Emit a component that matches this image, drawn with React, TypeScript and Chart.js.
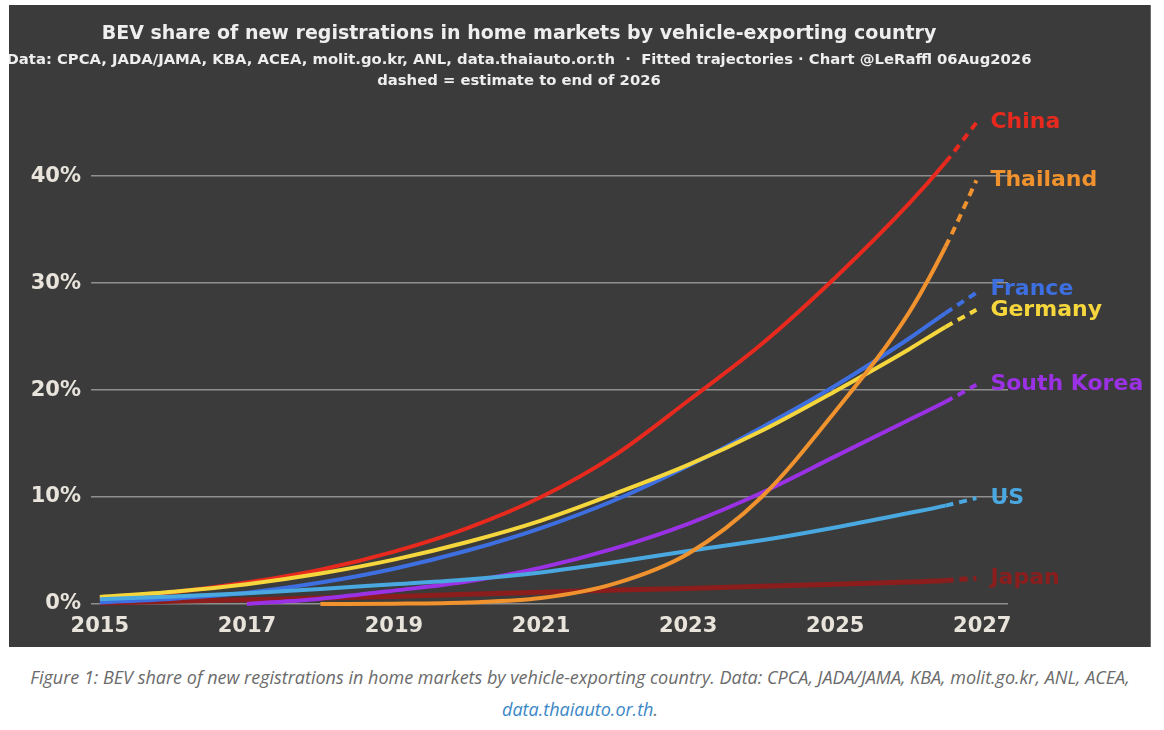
import React, { useEffect, useRef } from "react";
import { Chart, registerables } from "chart.js";

Chart.register(...registerables);

// ---------- data ----------
const FULL_YEARS = [2015, 2016, 2017, 2018, 2019, 2020, 2021, 2022, 2023, 2024, 2025, 2026, 2026.5];
const KOREA_YEARS = [2017, 2018, 2019, 2020, 2021, 2022, 2023, 2024, 2025, 2026, 2026.5];
const THAI_YEARS = [2018, 2019, 2020, 2021, 2022, 2023, 2024, 2025, 2026, 2026.5];
const LAST_ACTUAL_YEAR = 2026.5;
const ESTIMATE_YEAR = 2026.92;

const CHINA = [0.5, 1.1, 2.0, 3.2, 4.9, 7.1, 10.0, 13.9, 19.0, 24.3, 30.5, 37.4, 41.3];
const CHINA_EST = 45.0;
const GERMANY = [0.65, 1.15, 1.85, 2.85, 4.15, 5.8, 7.8, 10.3, 13.0, 16.2, 19.9, 23.8, 25.9];
const GERMANY_EST = 27.5;
const FRANCE = [0.15, 0.5, 1.05, 2.0, 3.3, 5.0, 7.1, 9.7, 12.9, 16.5, 20.4, 24.8, 27.2];
const FRANCE_EST = 29.1;
const US = [0.45, 0.7, 1.0, 1.4, 1.85, 2.3, 2.95, 3.9, 4.95, 5.95, 7.15, 8.5, 9.2];
const US_EST = 9.9;
const JAPAN = [0.1, 0.25, 0.4, 0.55, 0.7, 0.9, 1.1, 1.3, 1.45, 1.65, 1.85, 2.05, 2.2];
const JAPAN_EST = 2.4;
const KOREA = [0, 0.5, 1.25, 2.1, 3.4, 5.2, 7.5, 10.4, 13.8, 17.2, 18.9];
const KOREA_EST = 20.5;
const THAILAND = [0, 0.03, 0.15, 0.55, 1.9, 4.7, 10.0, 18.0, 27.2, 33.4];
const THAILAND_EST = 39.6;

const X_TICKS = [2015, 2017, 2019, 2021, 2023, 2025, 2027];
const Y_TICKS = [0, 10, 20, 30, 40];

const TITLE = "BEV share of new registrations in home markets by vehicle-exporting country";
const SUBTITLE =
  "Data: CPCA, JADA/JAMA, KBA, ACEA, molit.go.kr, ANL, data.thaiauto.or.th  \u00b7  Fitted trajectories \u00b7 Chart @LeRaffl 06Aug2026";
const NOTE = "dashed = estimate to end of 2026";

// ---------- styles ----------
const SERIES = [
  { name: "Thailand", years: THAI_YEARS, values: THAILAND, est: THAILAND_EST, color: "#f0922e", width: 4 },
  { name: "US", years: FULL_YEARS, values: US, est: US_EST, color: "#4aa8e0", width: 4 },
  { name: "South Korea", years: KOREA_YEARS, values: KOREA, est: KOREA_EST, color: "#9b31e4", width: 4 },
  { name: "Germany", years: FULL_YEARS, values: GERMANY, est: GERMANY_EST, color: "#f5d63c", width: 4 },
  { name: "France", years: FULL_YEARS, values: FRANCE, est: FRANCE_EST, color: "#3d6fe0", width: 4 },
  { name: "China", years: FULL_YEARS, values: CHINA, est: CHINA_EST, color: "#e8291e", width: 4 },
  { name: "Japan", years: FULL_YEARS, values: JAPAN, est: JAPAN_EST, color: "#8c1d1d", width: 5 },
];

const BG = "#3b3b3b";
const TEXT = "#eeeeee";
const TICK = "#e8e4dc";
const FONT = '"DejaVu Sans"';

const headerPlugin = {
  id: "header",
  afterDraw(chart: any) {
    const ctx = chart.ctx;
    ctx.save();
    ctx.fillStyle = TEXT;
    ctx.textAlign = "center";
    ctx.textBaseline = "alphabetic";
    ctx.font = `bold 19px ${FONT}`;
    ctx.fillText(TITLE, 510, 34);
    ctx.font = `bold 14.8px ${FONT}`;
    ctx.fillText(SUBTITLE, 510, 59);
    ctx.fillText(NOTE, 510, 79.5);
    ctx.restore();
  },
};

const endLabelPlugin = {
  id: "endLabels",
  afterDatasetsDraw(chart: any) {
    const xs = chart.scales.x;
    const ys = chart.scales.y;
    const items = SERIES.map((s) => ({ text: s.name, color: s.color, y: ys.getPixelForValue(s.est) }));
    items.sort((a, b) => a.y - b.y);
    for (let i = items.length - 2; i >= 0; i--) {
      if (items[i + 1].y - items[i].y < 21) items[i].y = items[i + 1].y - 21;
    }
    const x = xs.getPixelForValue(ESTIMATE_YEAR) + 14;
    const ctx = chart.ctx;
    ctx.save();
    ctx.font = `bold 22px ${FONT}`;
    ctx.textAlign = "left";
    ctx.textBaseline = "middle";
    for (const it of items) {
      ctx.fillStyle = it.color;
      ctx.fillText(it.text, x, it.y);
    }
    ctx.restore();
  },
};

export default function App() {
  const ref = useRef<HTMLCanvasElement | null>(null);

  useEffect(() => {
    if (!ref.current) return;
    const datasets = SERIES.map((s) => ({
      label: s.name,
      data: [...s.years.map((yr, i) => ({ x: yr, y: s.values[i] })), { x: ESTIMATE_YEAR, y: s.est }],
      borderColor: s.color,
      backgroundColor: s.color,
      borderWidth: s.width,
      pointRadius: 0,
      pointHoverRadius: 0,
      fill: false,
      cubicInterpolationMode: "monotone" as const,
      borderCapStyle: "butt" as const,
      segment: {
        borderDash: (ctx: any) => (ctx.p0.parsed.x >= LAST_ACTUAL_YEAR ? [8, 6] : undefined),
      },
    }));

    const tickFont = { family: FONT, weight: "bold" as const, size: 21 };

    const chart = new Chart(ref.current, {
      type: "line",
      data: { datasets },
      plugins: [headerPlugin, endLabelPlugin],
      options: {
        animation: false,
        responsive: false,
        events: [],
        layout: { padding: { left: 0, right: 142, top: 107, bottom: 6.6 } },
        plugins: { legend: { display: false }, tooltip: { enabled: false }, title: { display: false } },
        scales: {
          x: {
            type: "linear",
            min: 2014.88,
            max: 2027.35,
            afterBuildTicks: (axis: any) => {
              axis.ticks = X_TICKS.map((v) => ({ value: v }));
            },
            afterFit: (axis: any) => {
              axis.height = 30;
            },
            grid: { display: false, drawTicks: false },
            border: { display: false },
            ticks: {
              color: TICK,
              font: tickFont,
              padding: 4,
              maxRotation: 0,
              autoSkip: false,
              callback: (v: any) => String(v),
            },
          },
          y: {
            type: "linear",
            min: -0.6,
            max: 46,
            afterBuildTicks: (axis: any) => {
              axis.ticks = Y_TICKS.map((v) => ({ value: v }));
            },
            afterFit: (axis: any) => {
              axis.width = 82;
            },
            grid: { color: "#8f8f8f", lineWidth: 1.5, drawTicks: false },
            border: { display: false },
            ticks: {
              color: TICK,
              font: tickFont,
              padding: 10,
              callback: (v: any) => `${v}%`,
            },
          },
        },
      },
    });
    return () => chart.destroy();
  }, []);

  return (
    <div style={{ position: "absolute", left: 0, top: 0, width: 1164, height: 730, background: "#ffffff" }}>
      <canvas
        ref={ref}
        width={1141}
        height={642}
        style={{
          position: "absolute",
          left: 9,
          top: 5,
          width: 1141,
          height: 642,
          background: BG,
          boxShadow: "1px 0 0 #6e6e6e",
        }}
      />
      <div
        style={{
          position: "absolute",
          left: 0,
          top: 661,
          width: 1160,
          textAlign: "center",
          fontFamily: '"Open Sans", sans-serif',
          fontStyle: "italic",
          fontSize: 18,
          lineHeight: "32px",
          color: "#6b6b6b",
          whiteSpace: "nowrap",
        }}
      >
        Figure 1: BEV share of new registrations in home markets by vehicle-exporting country. Data: CPCA, JADA/JAMA,
        KBA, molit.go.kr, ANL, ACEA,
        <br />
        <span style={{ color: "#3a87c6" }}>data.thaiauto.or.th</span>.
      </div>
    </div>
  );
}
